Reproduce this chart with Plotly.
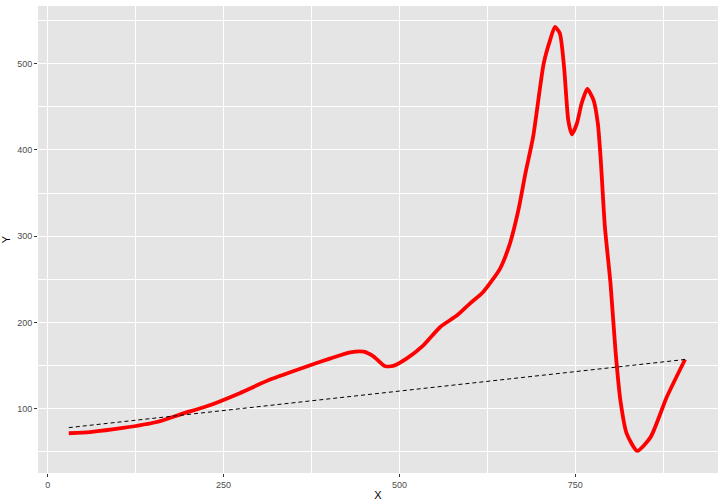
import plotly.graph_objects as go

# Curve data
curve_x = [30, 60, 107, 155, 192, 226, 273, 316, 373, 401, 430, 449, 463, 479, 491,
           510, 534, 558, 582, 600, 619, 643, 657, 669, 679, 690, 705, 714, 721, 728,
           734, 740, 745, 752, 759, 767, 776, 782, 786, 792, 800, 807, 814, 823, 838,
           857, 880, 906]
curve_y = [71.5, 72.9, 77.6, 84.5, 94.3, 102.7, 118, 133.7, 150.3, 158, 165.3, 166.1,
           160.7, 149.5, 149.5, 158, 173.4, 194.7, 208.2, 221.8, 235.3, 262.4, 291.4,
           330, 372.5, 415, 500, 527, 542.5, 535, 496, 434, 418, 430, 454, 470.6, 457.5,
           430.5, 390, 311, 245, 168, 110, 71, 51, 67, 113.5, 157]

# Linear trend (dashed)
trend_x = [30, 906]
trend_y = [78, 157]

x_ticks = [0, 250, 500, 750]
y_ticks = [100, 200, 300, 400, 500]

fig = go.Figure()
fig.add_trace(go.Scatter(x=curve_x, y=curve_y, mode="lines",
                         line=dict(color="#FF0000", width=3.8, shape="spline", smoothing=0.6),
                         showlegend=False, hoverinfo="skip"))
fig.add_trace(go.Scatter(x=trend_x, y=trend_y, mode="lines",
                         line=dict(color="black", width=1, dash="4px,3px"),
                         showlegend=False, hoverinfo="skip"))

axis_common = dict(
    showgrid=True, gridcolor="white", gridwidth=1.1,
    zeroline=False, showline=False, automargin=False,
    ticks="outside", ticklen=3, tickcolor="#333333", tickwidth=1,
    tickfont=dict(family="Liberation Sans, Arial, sans-serif", size=9, color="#4D4D4D"),
)

fig.update_xaxes(**axis_common, range=[-13.8, 952.8], tickvals=x_ticks,
                 ticktext=[str(v) for v in x_ticks],
                 minor=dict(tickvals=[125, 375, 625, 875], showgrid=True,
                            gridcolor="white", gridwidth=0.5, ticks=""),
                 title=dict(text="X", standoff=2,
                            font=dict(family="Liberation Sans, Arial, sans-serif", size=11, color="black")))
fig.update_yaxes(**axis_common, range=[25.4, 566.8], tickvals=y_ticks,
                 ticktext=[str(v) for v in y_ticks],
                 minor=dict(tickvals=[50, 150, 250, 350, 450, 550], showgrid=True,
                            gridcolor="white", gridwidth=0.5, ticks=""),
                 title=dict(text="Y", standoff=4,
                            font=dict(family="Liberation Sans, Arial, sans-serif", size=11, color="black")))

fig.update_layout(
    width=720, height=504,
    margin=dict(l=38, r=2, t=6, b=31),
    plot_bgcolor="#E5E5E5", paper_bgcolor="white",
)

fig.write_html("out.html", config={"displayModeBar": False},
               post_script="document.body.style.margin='0px';")
